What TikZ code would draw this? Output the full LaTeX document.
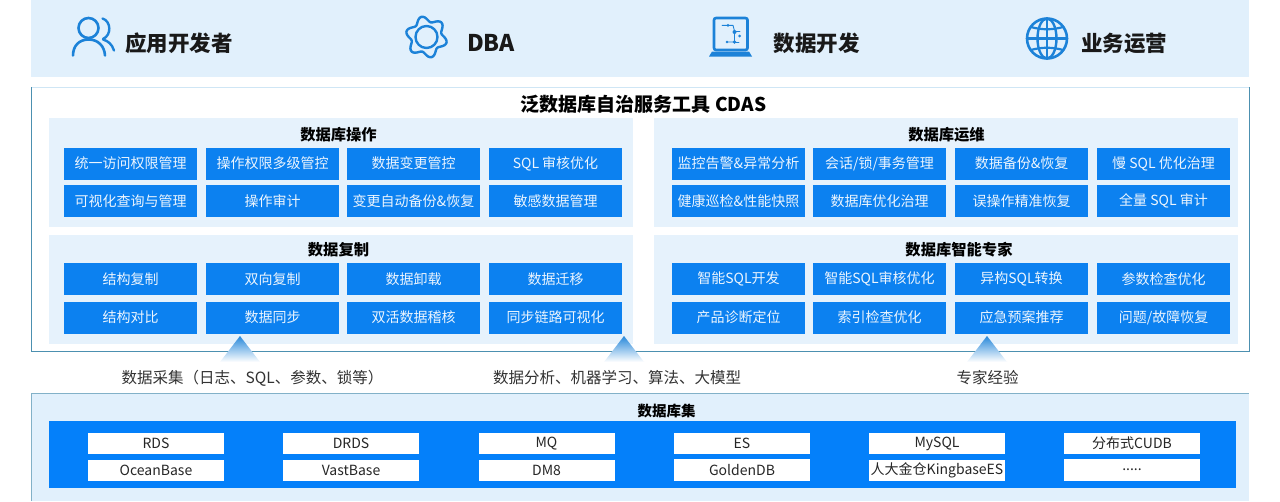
\documentclass[tikz,border=0pt]{standalone}
\usepackage{fontspec}
\setmainfont{Noto Sans CJK SC}
\definecolor{band}{HTML}{E1F0FC}
\definecolor{panelbg}{HTML}{E6F2FC}
\definecolor{chipblue}{HTML}{0C81F0}
\definecolor{setblue}{HTML}{0480FA}
\definecolor{iconblue}{HTML}{1C82D8}
\definecolor{frameline}{HTML}{4C90B0}
\definecolor{framelight}{HTML}{CFE6F5}
\tikzset{
  chipbox/.style={fill=chipblue,draw=none,minimum width=133pt,minimum height=32pt,inner sep=0pt,text=white!92!chipblue,font=\fontsize{14}{14}\selectfont},
  dbbox/.style={fill=white,draw=none,minimum width=136pt,minimum height=21.5pt,inner sep=0pt,text=black!85,font=\fontsize{14}{14}\selectfont},
  paneltitle/.style={font=\fontsize{15.3}{15}\selectfont\bfseries,text=black,inner sep=0pt},
  toplabel/.style={font=\fontsize{21.5}{22}\selectfont\bfseries,text=black!90,inner sep=0pt},
  srclabel/.style={font=\fontsize{15.5}{16}\selectfont,text=black!80,inner sep=0pt},
  icon/.style={draw=iconblue,line cap=round,line join=round},
  flowtri/.style={top color=iconblue!95,bottom color=white,draw=none,shading angle=0}
}
\begin{document}
\begin{tikzpicture}[x=1pt,y=-1pt]
\useasboundingbox (0,0) rectangle (1280,501);
\fill[white] (0,0) rectangle (1280,501);
% bands
\fill[band] (31,0) rectangle (1249,77);
\fill[band] (31,393.5) rectangle (1249,501);
\draw[frameline!70,line width=0.8pt] (31,501) -- (31,393.5) -- (1249,393.5);
% main frame
\draw[framelight,line width=0.8pt] (31,87) -- (1249,87);
\draw[frameline,line width=0.9pt] (31,87) -- (31,351) -- (1249,351) -- (1249,87);
% panels
\fill[panelbg] (49,118) rectangle (633,227);
\fill[panelbg] (654,118) rectangle (1238,227);
\fill[panelbg] (49,235) rectangle (633,344);
\fill[panelbg] (654,235) rectangle (1238,344);
% person
\draw[icon,line width=2.6pt] (88.5,28) ellipse (10 and 10);
\draw[icon,line width=2.6pt] (73,55.5) .. controls (73,46) and (79,39.5) .. (88.5,39.5) .. controls (98,39.5) and (104.5,46) .. (105,55.5);
\draw[icon,line width=2.4pt] (102.5,18.5) .. controls (111,21) and (112,35) .. (103,39);
\draw[icon,line width=2.4pt] (103,39.5) .. controls (108,41) and (112,44) .. (114,50.5);
% gear
\draw[icon,line width=2.4pt] plot[smooth cycle,domain=0:355,samples=72] ({426.5+(18+2.8*cos(6*\x-96))*cos(\x)},{37+(18+2.8*cos(6*\x-96))*sin(\x)});
\draw[icon,line width=2.4pt] (426.5,37) circle (11);
% laptop
\draw[icon,line width=2.6pt,rounded corners=2pt,fill=band] (714,18) rectangle (747.5,50);
\fill[iconblue] (712,51.5) -- (749,51.5) -- (752,56.5) -- (709,56.5) -- cycle;
\draw[icon,line width=0.9pt] (722,25.3) -- (733,25.3) -- (734.5,31) -- (734.5,42) -- (727,42);
\draw[icon,line width=0.9pt] (734.5,31) -- (740,31);
\draw[icon,line width=0.9pt] (734.5,42) -- (739,42);
\fill[iconblue] (728,25.3) circle (1.5) (734.5,32) circle (2) (734.5,42) circle (1.8) (727,42) circle (1.4) (739.5,36) circle (1.5);
% globe
\draw[icon,line width=2.6pt] (1047,38.5) circle (20);
\draw[icon,line width=2.4pt] (1047,38.5) ellipse (9.5 and 20);
\draw[icon,line width=2.4pt] (1047,18.5) -- (1047,58.5) (1027,38.5) -- (1067,38.5);
\draw[icon,line width=2.2pt] (1031,27) .. controls (1041,30) and (1053,30) .. (1063,27);
\draw[icon,line width=2.2pt] (1031,50) .. controls (1041,47) and (1053,47) .. (1063,50);
% top labels
\node[toplabel] (roleA) at (179,43.5) {应用开发者};
\node[toplabel,font=\fontsize{23}{23}\selectfont\bfseries] (roleB) at (491,43) {DBA};
\node[toplabel] (roleC) at (816.5,43.5) {数据开发};
\node[toplabel] (roleD) at (1124,43.5) {业务运营};
\node[font=\fontsize{19}{20}\selectfont\bfseries,text=black,inner sep=0pt] (title) at (643.5,104) {泛数据库自治服务工具 CDAS};
% panel titles
\node[paneltitle] (tA) at (338.5,135) {数据库操作};
\node[paneltitle] (tB) at (946.5,135) {数据库运维};
\node[paneltitle] (tC) at (338.5,250) {数据复制};
\node[paneltitle] (tD) at (959,250) {数据库智能专家};
% chips panel A
\node[chipbox] (a1) at (130.5,163.5) {统一访问权限管理};
\node[chipbox] (a2) at (272.5,163.5) {操作权限多级管控};
\node[chipbox] (a3) at (413.5,163.5) {数据变更管控};
\node[chipbox] (a4) at (555.5,163.5) {SQL 审核优化};
\node[chipbox] (a5) at (130.5,201) {可视化查询与管理};
\node[chipbox] (a6) at (272.5,201) {操作审计};
\node[chipbox] (a7) at (413.5,201) {变更自动备份\&恢复};
\node[chipbox] (a8) at (555.5,201) {敏感数据管理};
% chips panel B
\node[chipbox] (b1) at (738.5,163.5) {监控告警\&异常分析};
\node[chipbox] (b2) at (879.5,163.5) {会话/锁/事务管理};
\node[chipbox] (b3) at (1021.5,163.5) {数据备份\&恢复};
\node[chipbox] (b4) at (1163.5,163.5) {慢 SQL 优化治理};
\node[chipbox] (b5) at (738.5,201) {健康巡检\&性能快照};
\node[chipbox] (b6) at (879.5,201) {数据库优化治理};
\node[chipbox] (b7) at (1021.5,201) {误操作精准恢复};
\node[chipbox] (b8) at (1163.5,201) {全量 SQL 审计};
% chips panel C
\node[chipbox] (c1) at (130.5,279) {结构复制};
\node[chipbox] (c2) at (272.5,279) {双向复制};
\node[chipbox] (c3) at (413.5,279) {数据卸载};
\node[chipbox] (c4) at (555.5,279) {数据迁移};
\node[chipbox] (c5) at (130.5,317.5) {结构对比};
\node[chipbox] (c6) at (272.5,317.5) {数据同步};
\node[chipbox] (c7) at (413.5,317.5) {双活数据稽核};
\node[chipbox] (c8) at (555.5,317.5) {同步链路可视化};
% chips panel D
\node[chipbox] (d1) at (738.5,279) {智能SQL开发};
\node[chipbox] (d2) at (879.5,279) {智能SQL审核优化};
\node[chipbox] (d3) at (1021.5,279) {异构SQL转换};
\node[chipbox] (d4) at (1163.5,279) {参数检查优化};
\node[chipbox] (d5) at (738.5,317.5) {产品诊断定位};
\node[chipbox] (d6) at (879.5,317.5) {索引检查优化};
\node[chipbox] (d7) at (1021.5,317.5) {应急预案推荐};
\node[chipbox] (d8) at (1163.5,317.5) {问题/故障恢复};
% triangles
\shade[flowtri] (240,336) -- (260,362) -- (220,362) -- cycle;
\shade[flowtri] (624,336) -- (644,362) -- (604,362) -- cycle;
\shade[flowtri] (987,336) -- (1007,362) -- (967,362) -- cycle;
% source labels
\node[srclabel] (s1) at (252.5,378) {数据采集（日志、SQL、参数、锁等）};
\node[srclabel] (s2) at (617,377.5) {数据分析、机器学习、算法、大模型};
\node[srclabel] (s3) at (987.5,377.5) {专家经验};
% database set
\node[paneltitle,font=\fontsize{14.5}{15}\selectfont\bfseries] (dbt) at (666.5,411) {数据库集};
\fill[setblue] (49,421) rectangle (1236,488);
\node[dbbox] (e1) at (156,443.5) {RDS};
\node[dbbox] (e2) at (351,443.5) {DRDS};
\node[dbbox] (e3) at (546.5,443.5) {MQ};
\node[dbbox] (e4) at (742,443.5) {ES};
\node[dbbox] (e5) at (937,443.5) {MySQL};
\node[dbbox] (e6) at (1132,443.5) {分布式CUDB};
\node[dbbox] (f1) at (156,470.5) {OceanBase};
\node[dbbox] (f2) at (351,470.5) {VastBase};
\node[dbbox] (f3) at (546.5,470.5) {DM8};
\node[dbbox] (f4) at (742,470) {GoldenDB};
\node[dbbox] (f5) at (937,470.5) {人大金仓KingbaseES};
\node[dbbox] (f6) at (1132,470) {.....};
\end{tikzpicture}
\end{document}
